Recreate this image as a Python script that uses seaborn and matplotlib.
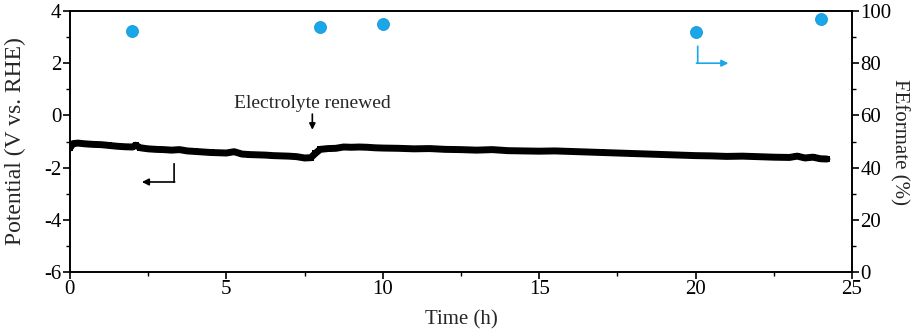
import matplotlib
matplotlib.use("Agg")
import matplotlib.pyplot as plt
from matplotlib.ticker import MultipleLocator
import pandas as pd
import seaborn as sns

# potential vs time
time_h = [0.0, 0.1, 0.25, 0.5, 0.75, 1.0, 1.25, 1.5, 1.75, 2.0, 2.1, 2.25, 2.5, 2.75,
          3.0, 3.25, 3.5, 3.75, 4.0, 4.25, 4.5, 4.75, 5.0, 5.25, 5.5, 5.75, 6.0,
          6.25, 6.5, 6.75, 7.0, 7.25, 7.5, 7.7, 7.85, 8.0, 8.25, 8.5, 8.75, 9.0,
          9.25, 9.5, 9.75, 10.0, 10.5, 11.0, 11.5, 12.0, 12.5, 13.0, 13.5, 14.0,
          14.5, 15.0, 15.5, 16.0, 16.5, 17.0, 17.5, 18.0, 18.5, 19.0, 19.5, 20.0,
          20.5, 21.0, 21.5, 22.0, 22.5, 23.0, 23.25, 23.5, 23.75, 24.0, 24.2]
potential = [-1.25, -1.08, -1.06, -1.09, -1.11, -1.12, -1.15, -1.18, -1.20, -1.21,
             -1.14, -1.24, -1.28, -1.30, -1.31, -1.33, -1.31, -1.36, -1.38, -1.40,
             -1.42, -1.43, -1.44, -1.39, -1.48, -1.50, -1.51, -1.52, -1.54, -1.55,
             -1.56, -1.58, -1.63, -1.62, -1.45, -1.30, -1.27, -1.26, -1.21, -1.22,
             -1.21, -1.22, -1.24, -1.25, -1.26, -1.28, -1.27, -1.30, -1.31, -1.33,
             -1.31, -1.35, -1.36, -1.37, -1.36, -1.38, -1.40, -1.42, -1.44, -1.46,
             -1.48, -1.50, -1.52, -1.54, -1.55, -1.57, -1.56, -1.58, -1.60, -1.61,
             -1.56, -1.63, -1.60, -1.66, -1.67]

# Faradaic efficiency of formate
fe_time = [2, 8, 10, 20, 24]
fe_formate = [92.5, 94.0, 95.2, 91.8, 96.8]

sns.set_style("ticks")
plt.rcParams["font.family"] = ["Liberation Serif", "DejaVu Serif"]
plt.rcParams["font.size"] = 15
plt.rcParams["axes.unicode_minus"] = False

fig = plt.figure(figsize=(9.2, 3.33), dpi=100)
ax = fig.add_axes([0.076, 0.183, 0.850, 0.784])

df = pd.DataFrame({"t": time_h, "E": potential})
sns.lineplot(data=df, x="t", y="E", ax=ax, color="black", linewidth=5,
             marker="s", markersize=5, markeredgewidth=0)

ax.set_xlim(0, 25)
ax.set_ylim(-6, 4)
ax.xaxis.set_major_locator(MultipleLocator(5))
ax.xaxis.set_minor_locator(MultipleLocator(2.5))
ax.yaxis.set_major_locator(MultipleLocator(2))
ax.yaxis.set_minor_locator(MultipleLocator(1))
ax.set_xlabel("Time (h)", labelpad=8)
ax.set_ylabel("Potential (V vs. RHE)", fontsize=17, labelpad=13)

ax2 = ax.twinx()
fe_df = pd.DataFrame({"t": fe_time, "fe": fe_formate})
sns.scatterplot(data=fe_df, x="t", y="fe", ax=ax2, color="#1aa7ea", s=75,
                edgecolor="#0e8fd0", linewidth=0.5, zorder=3)
ax2.set_ylim(0, 100)
ax2.yaxis.set_major_locator(MultipleLocator(20))
ax2.yaxis.set_minor_locator(MultipleLocator(10))
ax2.set_ylabel("FEformate (%)", rotation=270, labelpad=13)

for a in (ax, ax2):
    for s in a.spines.values():
        s.set_linewidth(1.2)
        s.set_color("black")
    a.tick_params(which="major", direction="out", length=5, width=1.2, colors="black")
    a.tick_params(which="minor", direction="out", length=3, width=1.0, colors="black")
    a.tick_params(axis="both", labelsize=15, pad=1)

# annotations
ax.text(7.75, 0.15, "Electrolyte renewed", ha="center", va="bottom", fontsize=14)
ax.annotate("", xy=(7.75, -0.55), xytext=(7.75, 0.05),
            arrowprops=dict(arrowstyle="-|>", color="black", lw=1.2,
                            mutation_scale=9, shrinkA=0, shrinkB=0))
ax.annotate("", xy=(3.33, -1.85), xytext=(3.33, -2.55),
            arrowprops=dict(arrowstyle="-", color="black", lw=1.2,
                            shrinkA=0, shrinkB=0))
ax.annotate("", xy=(2.3, -2.55), xytext=(3.35, -2.55),
            arrowprops=dict(arrowstyle="-|>", color="black", lw=1.2,
                            mutation_scale=10, shrinkA=0, shrinkB=0))
ax2.annotate("", xy=(20.07, 86.5), xytext=(20.07, 80),
             arrowprops=dict(arrowstyle="-", color="#1aa7ea", lw=1.2,
                             shrinkA=0, shrinkB=0))
ax2.annotate("", xy=(21.05, 80), xytext=(20.03, 80),
             arrowprops=dict(arrowstyle="-|>", color="#1aa7ea", lw=1.2,
                             mutation_scale=10, shrinkA=0, shrinkB=0))

fig.savefig("out.png", dpi=100)
